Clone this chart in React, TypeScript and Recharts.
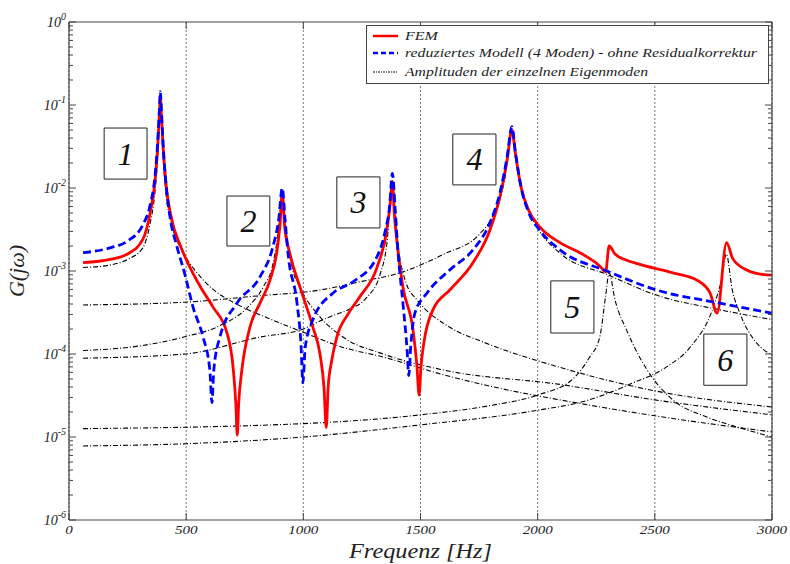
import { LineChart, Line, XAxis, YAxis, CartesianGrid, ReferenceArea, ReferenceLine, Legend } from 'recharts';

const SERIF = '"Liberation Serif", "Times New Roman", serif';
const INK = '#222';
const FRAME = '#444';

// FEM reference response
const femFreq = [60, 175, 250, 315, 345, 367, 378, 386, 390, 394, 402, 413, 440, 470, 510, 560, 614, 674, 700, 712, 718, 724, 738, 772, 815, 858, 887, 900, 910, 920, 943, 986, 1041, 1071, 1088, 1098, 1106, 1120, 1143, 1190, 1241, 1314, 1356, 1372, 1380, 1388, 1400, 1425, 1468, 1485, 1494, 1502, 1515, 1553, 1625, 1724, 1796, 1840, 1870, 1890, 1905, 1930, 1960, 2009, 2095, 2180, 2265, 2290, 2305, 2330, 2380, 2436, 2577, 2679, 2735, 2766, 2806, 2833, 2892, 2950, 3000];
const femAmp = [1.26e-3, 1.38e-3, 1.6e-3, 2.4e-3, 4.8e-3, 1.2e-2, 3.0e-2, 8.0e-2, 0.13, 8.0e-2, 3.0e-2, 1.2e-2, 4.0e-3, 2.2e-3, 1.2e-3, 6.5e-4, 3.7e-4, 1.8e-4, 7e-5, 2.5e-5, 1.05e-5, 2.5e-5, 6.5e-5, 2.1e-4, 4.1e-4, 7.8e-4, 1.7e-3, 3.5e-3, 8.5e-3, 3.5e-3, 1.6e-3, 6.4e-4, 2.1e-4, 1.0e-4, 4e-5, 1.3e-5, 4e-5, 8e-5, 1.6e-4, 3e-4, 4.9e-4, 1.1e-3, 3.1e-3, 7e-3, 1.2e-2, 5e-3, 2.2e-3, 6.4e-4, 1.95e-4, 7e-5, 3.2e-5, 7e-5, 1.4e-4, 3.4e-4, 5.9e-4, 1.26e-3, 3.1e-3, 8e-3, 2.2e-2, 5.0e-2, 2.6e-2, 1.0e-2, 5.5e-3, 3.4e-3, 2.2e-3, 1.66e-3, 1.15e-3, 9.8e-4, 2.0e-3, 1.6e-3, 1.35e-3, 1.2e-3, 9.5e-4, 7.8e-4, 5.5e-4, 3.1e-4, 2.2e-3, 1.4e-3, 1.03e-3, 9.2e-4, 8.9e-4];

// reduced model, 4 modes, no residual correction
const redFreq = [60, 175, 250, 315, 345, 367, 378, 386, 390, 394, 402, 413, 431, 460, 495, 529, 572, 601, 610, 618, 644, 717, 815, 870, 895, 910, 922, 935, 973, 990, 998, 1008, 1041, 1126, 1212, 1314, 1348, 1368, 1380, 1392, 1404, 1425, 1443, 1450, 1458, 1476, 1527, 1625, 1724, 1796, 1840, 1870, 1890, 1905, 1930, 1960, 2009, 2095, 2295, 2508, 2777, 3000];
const redAmp = [1.66e-3, 1.9e-3, 2.3e-3, 3.6e-3, 6e-3, 1.4e-2, 3.4e-2, 9e-2, 0.145, 9e-2, 3.2e-2, 1.2e-2, 4.5e-3, 2e-3, 9e-4, 3.7e-4, 1.6e-4, 6.4e-5, 2.6e-5, 6.4e-5, 1.6e-4, 4.1e-4, 8.5e-4, 1.95e-3, 4.2e-3, 1.0e-2, 4.2e-3, 1.6e-3, 4.1e-4, 1.3e-4, 4.5e-5, 1.2e-4, 2.6e-4, 5.4e-4, 7.4e-4, 1.48e-3, 2.9e-3, 6e-3, 1.5e-2, 5.5e-3, 1.7e-3, 4.1e-4, 1.1e-4, 5.5e-5, 1.2e-4, 3.1e-4, 5.4e-4, 1.03e-3, 1.8e-3, 3.8e-3, 9e-3, 2.4e-2, 5.5e-2, 2.7e-2, 1.0e-2, 5.2e-3, 3.1e-3, 1.8e-3, 1.0e-3, 5.9e-4, 4.1e-4, 3.1e-4];

// single eigenmode amplitudes
const mode1Freq = [60, 175, 250, 315, 345, 367, 378, 390, 402, 413, 440, 486, 540, 601, 730, 850, 985, 1170, 1340, 1600, 1850, 2095, 2500, 3000];
const mode1Amp = [1.1e-3, 1.18e-3, 1.38e-3, 1.9e-3, 3.6e-3, 9e-3, 2.2e-2, 0.12, 2.2e-2, 9e-3, 3.5e-3, 1.7e-3, 1.0e-3, 6.5e-4, 3.8e-4, 2.7e-4, 1.9e-4, 1.2e-4, 9.2e-5, 5.6e-5, 3.8e-5, 2.8e-5, 1.8e-5, 1.15e-5];
const mode2Freq = [60, 300, 490, 644, 760, 830, 870, 893, 910, 927, 956, 986, 1071, 1169, 1340, 1600, 2095, 2500, 3000];
const mode2Amp = [1.1e-4, 1.25e-4, 1.6e-4, 2.2e-4, 3.6e-4, 6.5e-4, 1.2e-3, 3.0e-3, 9e-3, 3.0e-3, 1.0e-3, 6.3e-4, 2.8e-4, 1.6e-4, 1.0e-4, 6.4e-5, 4.3e-5, 2.8e-5, 1.85e-5];
const mode3Freq = [60, 495, 815, 1000, 1071, 1126, 1200, 1271, 1327, 1357, 1380, 1403, 1440, 1485, 1625, 1766, 2095, 2500, 3000];
const mode3Amp = [8.9e-5, 1.0e-4, 1.6e-4, 2.0e-4, 2.5e-4, 2.9e-4, 3.5e-4, 4.8e-4, 9e-4, 2.2e-3, 1.2e-2, 2.2e-3, 7e-4, 4.5e-4, 2.1e-4, 1.4e-4, 6.9e-5, 3.6e-5, 2.3e-5];
const mode4Freq = [60, 490, 800, 1071, 1250, 1412, 1600, 1753, 1820, 1860, 1890, 1920, 1960, 2009, 2100, 2300, 2500, 2780, 3000];
const mode4Amp = [3.9e-4, 4.2e-4, 5e-4, 5.9e-4, 7.5e-4, 9.5e-4, 1.6e-3, 2.8e-3, 5.5e-3, 1.3e-2, 5.0e-2, 1.3e-2, 5.5e-3, 3.0e-3, 1.6e-3, 9e-4, 5.2e-4, 3.4e-4, 2.6e-4];
const mode5Freq = [60, 1000, 1500, 1800, 2000, 2150, 2220, 2265, 2290, 2305, 2330, 2381, 2466, 2577, 2722, 2863, 3000];
const mode5Amp = [1.26e-5, 1.45e-5, 1.85e-5, 2.4e-5, 3.2e-5, 5e-5, 9e-5, 1.6e-4, 5e-4, 9.5e-4, 4.5e-4, 1.9e-4, 6.5e-5, 2.8e-5, 1.74e-5, 1.29e-5, 1.0e-5];
const mode6Freq = [60, 500, 1000, 1500, 2000, 2200, 2400, 2550, 2650, 2750, 2785, 2805, 2830, 2863, 2935, 3000];
const mode6Amp = [7.8e-6, 8.3e-6, 1.0e-5, 1.4e-5, 2.1e-5, 2.7e-5, 4.4e-5, 7e-5, 1.2e-4, 3.7e-4, 8e-4, 1.6e-3, 6e-4, 3.1e-4, 1.35e-4, 9.8e-5];

const xTicks = [0, 500, 1000, 1500, 2000, 2500, 3000];
const yDecades = [1e-6, 1e-5, 1e-4, 1e-3, 1e-2, 1e-1, 1];
const yMinorSteps = [2, 3, 4, 5, 6, 7, 8, 9];

const legendNames = ['FEM', 'reduziertes Modell (4 Moden) - ohne Residualkorrektur', 'Amplituden der einzelnen Eigenmoden'];

// numbered mode boxes, in data coordinates
const modeBoxes = [
  { label: '1', f1: 150, f2: 333, g1: 0.0128, g2: 0.0528 },
  { label: '2', f1: 674, f2: 857, g1: 2.0e-3, g2: 8.0e-3 },
  { label: '3', f1: 1143, f2: 1327, g1: 3.3e-3, g2: 0.0136 },
  { label: '4', f1: 1638, f2: 1822, g1: 0.0109, g2: 0.0447 },
  { label: '5', f1: 2056, f2: 2240, g1: 1.79e-4, g2: 7.6e-4 },
  { label: '6', f1: 2709, f2: 2893, g1: 4.2e-5, g2: 1.74e-4 },
];

const toPoints = (f: number[], g: number[]) => f.map((v, i) => ({ f: v, g: g[i] }));

const yTicks = [
  ...yDecades,
  ...yDecades.slice(0, -1).flatMap((d) => yMinorSteps.map((m) => m * d)),
].sort((a, b) => a - b);

const modeSeries = [
  toPoints(mode1Freq, mode1Amp),
  toPoints(mode2Freq, mode2Amp),
  toPoints(mode3Freq, mode3Amp),
  toPoints(mode4Freq, mode4Amp),
  toPoints(mode5Freq, mode5Amp),
  toPoints(mode6Freq, mode6Amp),
];

const STYLES = {
  fem: { color: '#ff0000', width: 2.8 },
  red: { color: '#0000ff', width: 2.8, dash: '8 4' },
  mode: { color: '#000', width: 1.1, dash: '5 2 1 2' },
};

const legendStyles = [STYLES.fem, STYLES.red, STYLES.mode];
const legendTextWidths = [33, 352, 243];

function LeftTick({ x, y, payload }: any) {
  const v = payload.value;
  const major = yDecades.includes(v);
  const exp = Math.round(Math.log10(v));
  return (
    <g>
      <line x1={x} x2={x + (major ? 7 : 4)} y1={y} y2={y} stroke={FRAME} strokeWidth={1} />
      {major && (
        <text x={x - 3} y={y + 5} textAnchor="end" fontFamily={SERIF} fontStyle="italic" fontSize={14} fill={INK}>
          10
          <tspan dy={-7} fontSize={10}>
            {exp === 0 ? '0' : `-${Math.abs(exp)}`}
          </tspan>
        </text>
      )}
    </g>
  );
}

function RightTick({ x, y, payload }: any) {
  const major = yDecades.includes(payload.value);
  return <line x1={x} x2={x - (major ? 7 : 4)} y1={y} y2={y} stroke={FRAME} strokeWidth={1} />;
}

function BottomTick({ x, y, payload }: any) {
  const s = String(payload.value);
  return (
    <g>
      <line x1={x} x2={x} y1={y} y2={y - 7} stroke={FRAME} strokeWidth={1} />
      <line x1={x} x2={x} y1={y - 498} y2={y - 491} stroke={FRAME} strokeWidth={1} />
      <text
        x={x}
        y={y + 14}
        textAnchor="middle"
        fontFamily={SERIF}
        fontStyle="italic"
        fontSize={12}
        fill={INK}
        textLength={s.length * 7.5}
        lengthAdjust="spacingAndGlyphs"
      >
        {s}
      </text>
    </g>
  );
}

function XTitle({ viewBox }: any) {
  const { x, y, width } = viewBox;
  return (
    <text
      x={x + width / 2}
      y={y + 38}
      textAnchor="middle"
      fontFamily={SERIF}
      fontStyle="italic"
      fontSize={22}
      fill={INK}
      textLength={143}
      lengthAdjust="spacingAndGlyphs"
    >
      Frequenz [Hz]
    </text>
  );
}

function YTitle({ viewBox }: any) {
  const { x, y, height } = viewBox;
  const cx = x + 24;
  const cy = y + height / 2;
  return (
    <text
      x={cx}
      y={cy}
      transform={`rotate(-90 ${cx} ${cy})`}
      textAnchor="middle"
      fontFamily={SERIF}
      fontStyle="italic"
      fontSize={22}
      fill={INK}
    >
      G(jω)
    </text>
  );
}

function BoxLabel(text: string) {
  return ({ viewBox }: any) => {
    const { x, y, width, height } = viewBox;
    return (
      <text
        x={x + width / 2}
        y={y + height / 2 + 11}
        textAnchor="middle"
        fontFamily={SERIF}
        fontStyle="italic"
        fontSize={32}
        fill="#111"
      >
        {text}
      </text>
    );
  };
}

function LegendBox() {
  return (
    <svg width={403} height={59} style={{ display: 'block' }}>
      <rect x={0.5} y={0.5} width={402} height={58} fill="#fff" stroke={FRAME} strokeWidth={1} />
      {legendNames.map((name, i) => {
        const cy = [11, 28, 47][i];
        const st = legendStyles[i];
        return (
          <g key={name}>
            <line
              x1={7}
              x2={32}
              y1={cy}
              y2={cy}
              stroke={st.color}
              strokeWidth={i === 2 ? 1 : 2.5}
              strokeDasharray={i === 1 ? '5 3' : i === 2 ? '2 1 1 1' : undefined}
            />
            <text
              x={39}
              y={cy + 4}
              fontFamily={SERIF}
              fontStyle="italic"
              fontSize={12.5}
              fill={INK}
              textLength={legendTextWidths[i]}
              lengthAdjust="spacingAndGlyphs"
            >
              {name}
            </text>
          </g>
        );
      })}
    </svg>
  );
}

export default function App() {
  return (
    <div style={{ position: 'absolute', left: 0, top: 0, width: 790, height: 564, background: '#fff' }}>
      <LineChart width={790} height={564} margin={{ top: 22, right: 0, bottom: 0, left: 0 }}>
        <CartesianGrid horizontal={false} stroke="#555" strokeWidth={0.8} strokeDasharray="2 2" />
        <XAxis
          type="number"
          dataKey="f"
          domain={[0, 3000]}
          ticks={xTicks}
          interval={0}
          allowDataOverflow
          height={44}
          tickLine={false}
          tickSize={0}
          tickMargin={0}
          tick={<BottomTick />}
          axisLine={{ stroke: FRAME, strokeWidth: 1.2 }}
          label={XTitle}
        />
        <YAxis
          type="number"
          scale="log"
          domain={[1e-6, 1]}
          ticks={yTicks}
          interval={0}
          allowDataOverflow
          width={69}
          tickLine={false}
          tickSize={0}
          tickMargin={0}
          tick={<LeftTick />}
          axisLine={{ stroke: FRAME, strokeWidth: 1.2 }}
          label={YTitle}
        />
        <YAxis
          yAxisId="right"
          orientation="right"
          type="number"
          scale="log"
          domain={[1e-6, 1]}
          ticks={yTicks}
          interval={0}
          allowDataOverflow
          width={18}
          tickLine={false}
          tickSize={0}
          tickMargin={0}
          tick={<RightTick />}
          axisLine={{ stroke: FRAME, strokeWidth: 1.2 }}
        />
        <ReferenceLine y={1} stroke={FRAME} strokeWidth={1.2} />
        {modeSeries.map((pts, i) => (
          <Line
            key={`mode${i + 1}`}
            data={pts}
            dataKey="g"
            name={legendNames[2]}
            legendType={i === 0 ? 'line' : 'none'}
            type="monotone"
            stroke={STYLES.mode.color}
            strokeWidth={STYLES.mode.width}
            strokeDasharray={STYLES.mode.dash}
            dot={false}
            activeDot={false}
            isAnimationActive={false}
          />
        ))}
        <Line
          data={toPoints(femFreq, femAmp)}
          dataKey="g"
          name={legendNames[0]}
          type="monotone"
          stroke={STYLES.fem.color}
          strokeWidth={STYLES.fem.width}
          dot={false}
          activeDot={false}
          isAnimationActive={false}
        />
        <Line
          data={toPoints(redFreq, redAmp)}
          dataKey="g"
          name={legendNames[1]}
          type="monotone"
          stroke={STYLES.red.color}
          strokeWidth={STYLES.red.width}
          strokeDasharray={STYLES.red.dash}
          dot={false}
          activeDot={false}
          isAnimationActive={false}
        />
        {modeBoxes.map((b) => (
          <ReferenceArea
            key={b.label}
            x1={b.f1}
            x2={b.f2}
            y1={b.g1}
            y2={b.g2}
            fill="#fff"
            fillOpacity={1}
            stroke="#222"
            strokeWidth={1}
            label={BoxLabel(b.label)}
          />
        ))}
        <Legend
          layout="vertical"
          align="center"
          verticalAlign="middle"
          width={403}
          wrapperStyle={{ position: 'absolute', left: 366, top: 25, width: 403, height: 59 }}
          content={<LegendBox />}
        />
      </LineChart>
    </div>
  );
}
